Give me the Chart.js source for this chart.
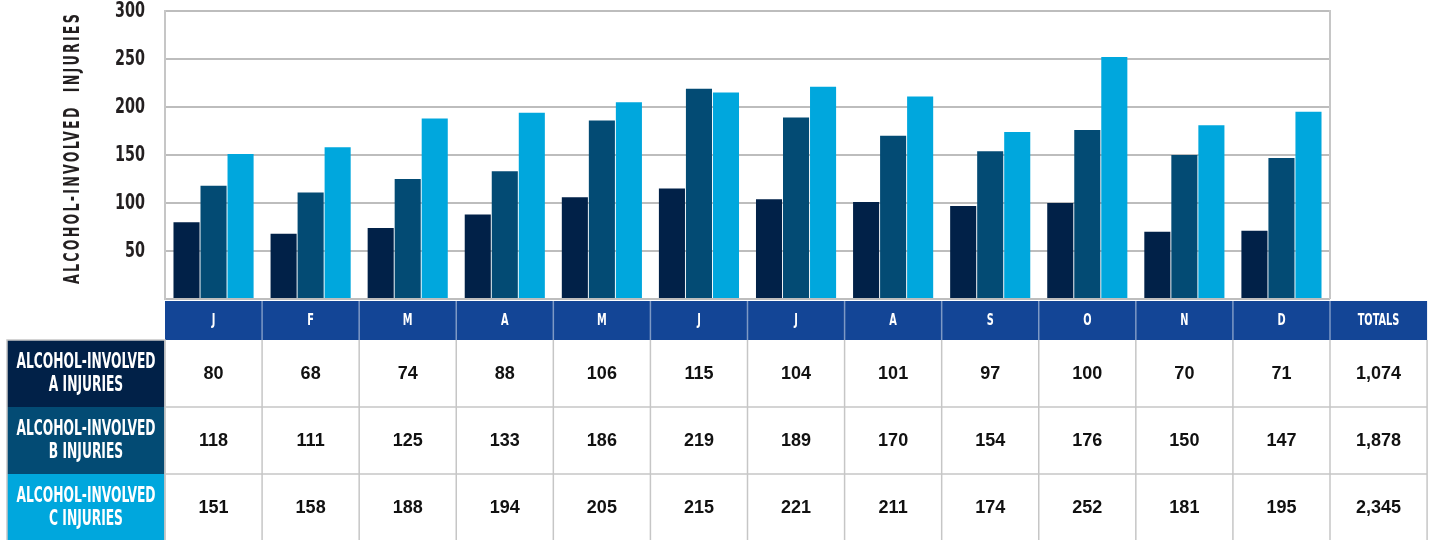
<!DOCTYPE html>
<html>
<head>
<meta charset="utf-8">
<title>Alcohol-involved injuries by month</title>
<script src="https://cdn.jsdelivr.net/npm/chart.js@4.4.1/dist/chart.umd.min.js"></script>
<style>
  html, body { margin: 0; padding: 0; background: #fff; }
  #wrap { width: 1433px; height: 540px; }
</style>
</head>
<body>
<div id="wrap"><canvas id="injury-chart"></canvas></div>
<script>
const months = ["J", "F", "M", "A", "M", "J", "J", "A", "S", "O", "N", "D"];
const injuriesA = [80, 68, 74, 88, 106, 115, 104, 101, 97, 100, 70, 71];
const injuriesB = [118, 111, 125, 133, 186, 219, 189, 170, 154, 176, 150, 147];
const injuriesC = [151, 158, 188, 194, 205, 215, 221, 211, 174, 252, 181, 195];
const rowLabels = [
  ["ALCOHOL-INVOLVED", "A INJURIES"],
  ["ALCOHOL-INVOLVED", "B INJURIES"],
  ["ALCOHOL-INVOLVED", "C INJURIES"]
];
const yTicks = [50, 100, 150, 200, 250, 300];
const totalsLabel = "TOTALS";
const yTitle = "ALCOHOL-INVOLVED  INJURIES";

const colors = ["#012148", "#034b74", "#00a7dd"];
const headerBlue = "#134596";
const lineGray = "#c6c6c6";
const narrow = '"Liberation Sans Narrow", "DejaVu Sans Condensed", "Arial Narrow", sans-serif';

const rows = [injuriesA, injuriesB, injuriesC];
const sum = arr => arr.reduce((a, b) => a + b, 0);

// squeezed bold text, the condensed fonts here are still too wide
function condensedText(ctx, text, x, y, size, squeeze) {
  ctx.save();
  ctx.translate(x, y);
  ctx.scale(squeeze, 1);
  ctx.font = "bold " + size + "px " + narrow;
  ctx.fillText(text, 0, 0);
  ctx.restore();
}

function line(ctx, x1, y1, x2, y2) {
  ctx.beginPath();
  ctx.moveTo(x1, y1);
  ctx.lineTo(x2, y2);
  ctx.stroke();
}

const tablePlugin = {
  id: "monthTable",
  afterDraw(chart) {
    const ctx = chart.ctx;
    const x = chart.scales.x;
    const y = chart.scales.y;
    const area = chart.chartArea;
    const colW = x.width / months.length;
    const bandTop = area.bottom + 2;
    const bandH = 39;
    const rowTop = bandTop + bandH;
    const rowH = 67;
    const labelLeft = 7;
    const right = area.right + colW;
    const totalsX = area.right + colW / 2;

    ctx.save();

    // right edge of the plot
    ctx.strokeStyle = lineGray;
    ctx.lineWidth = 2;
    line(ctx, area.right, area.top - 1, area.right, area.bottom);

    // y tick labels
    ctx.fillStyle = "#231f20";
    ctx.textAlign = "right";
    ctx.textBaseline = "middle";
    yTicks.forEach(v => {
      condensedText(ctx, String(v), area.left - 20, y.getPixelForValue(v) + 1, 21, 0.76);
    });

    // y axis title
    ctx.save();
    ctx.translate(74, (area.top + area.bottom) / 2 - 7);
    ctx.rotate(-Math.PI / 2);
    ctx.textAlign = "center";
    ctx.letterSpacing = "3.3px";
    ctx.scale(0.67, 1);
    ctx.font = "bold 21px " + narrow;
    ctx.fillText(yTitle, 0, 0);
    ctx.restore();

    // month header band
    ctx.fillStyle = headerBlue;
    ctx.fillRect(area.left, bandTop, right - area.left, bandH);
    ctx.strokeStyle = "rgba(255,255,255,0.45)";
    ctx.lineWidth = 1.5;
    for (let i = 1; i <= months.length; i++) {
      const sx = area.left + i * colW;
      line(ctx, sx, bandTop, sx, bandTop + bandH);
    }
    ctx.fillStyle = "#ffffff";
    ctx.textAlign = "center";
    months.forEach((m, i) => {
      condensedText(ctx, m, x.getPixelForValue(i), bandTop + bandH / 2, 16, 0.68);
    });
    condensedText(ctx, totalsLabel, totalsX, bandTop + bandH / 2, 16, 0.68);

    // data rows
    rows.forEach((vals, r) => {
      const y0 = rowTop + r * rowH;
      const cy = y0 + rowH / 2;
      ctx.fillStyle = colors[r];
      ctx.fillRect(labelLeft, y0, area.left - labelLeft, rowH + (r === rows.length - 1 ? 2 : 0));
      ctx.fillStyle = "#ffffff";
      condensedText(ctx, rowLabels[r][0], (labelLeft + area.left) / 2, cy - 11, 21, 0.65);
      condensedText(ctx, rowLabels[r][1], (labelLeft + area.left) / 2, cy + 12, 21, 0.65);

      ctx.fillStyle = "#111111";
      ctx.font = "bold 18px 'Liberation Sans', Arial, sans-serif";
      vals.forEach((v, i) => {
        ctx.fillText(String(v), x.getPixelForValue(i), cy + 1);
      });
      ctx.fillText(sum(vals).toLocaleString("en-US"), totalsX, cy + 1);
    });

    // table rules
    ctx.strokeStyle = lineGray;
    ctx.lineWidth = 1.5;
    for (let r = 1; r < rows.length; r++) {
      const ly = rowTop + r * rowH;
      line(ctx, area.left, ly, right, ly);
    }
    for (let i = 0; i <= months.length + 1; i++) {
      const vx = area.left + i * colW;
      line(ctx, vx, rowTop, vx, chart.height);
    }
    ctx.strokeRect(labelLeft, rowTop, area.left - labelLeft, chart.height - rowTop + 2);

    ctx.restore();
  }
};

const ctx = document.getElementById("injury-chart").getContext("2d");
const chart = new Chart(ctx, {
  type: "bar",
  data: {
    labels: months,
    datasets: [
      { label: "Alcohol-involved A injuries", data: injuriesA, backgroundColor: colors[0] },
      { label: "Alcohol-involved B injuries", data: injuriesB, backgroundColor: colors[1] },
      { label: "Alcohol-involved C injuries", data: injuriesC, backgroundColor: colors[2] }
    ]
  },
  options: {
    responsive: true,
    maintainAspectRatio: false,
    animation: false,
    datasets: {
      bar: { categoryPercentage: 0.835, barPercentage: 0.965 }
    },
    layout: {
      padding: { left: 165, right: 103, top: 11, bottom: 241 }
    },
    plugins: {
      legend: { display: false },
      tooltip: { enabled: false }
    },
    scales: {
      x: { display: false },
      y: {
        min: 0,
        max: 300,
        ticks: { stepSize: 50, display: false },
        grid: { color: "#bdbdbd", lineWidth: 2, drawTicks: false },
        border: { color: lineGray, width: 2 }
      }
    }
  },
  plugins: [tablePlugin]
});
</script>
</body>
</html>
